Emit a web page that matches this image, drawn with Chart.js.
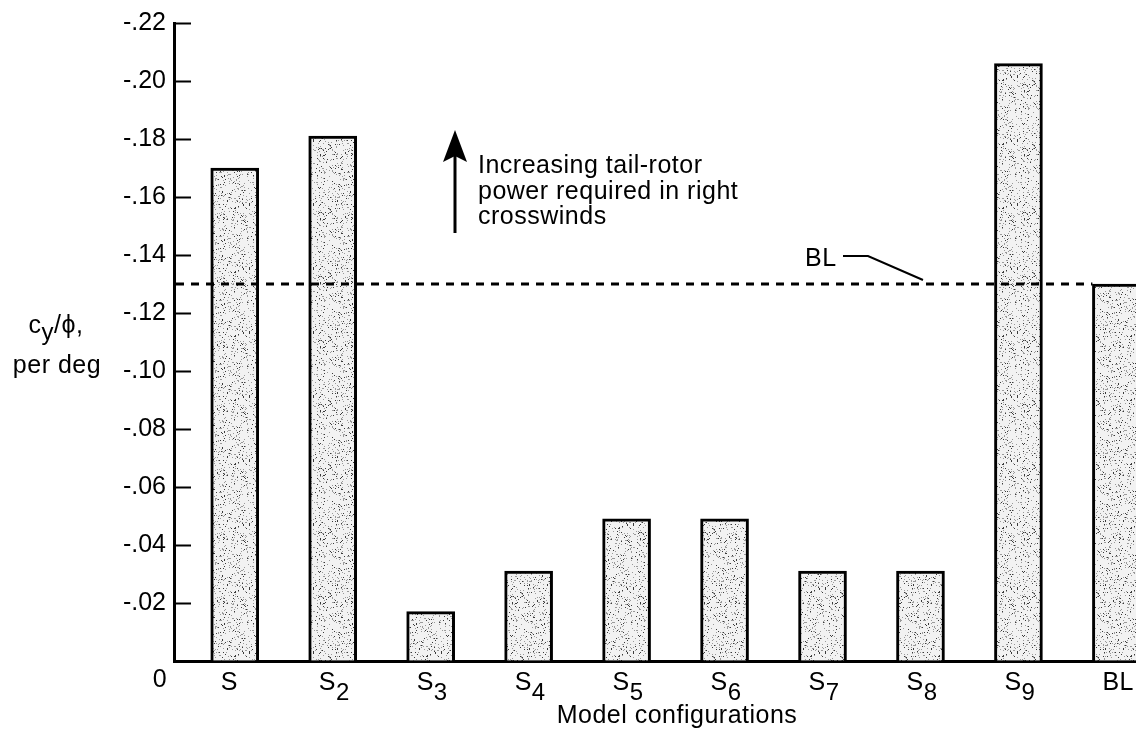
<!DOCTYPE html>
<html>
<head>
<meta charset="utf-8">
<title>Model configurations</title>
<script src="https://cdn.jsdelivr.net/npm/chart.js@4.4.0/dist/chart.umd.min.js"></script>
<style>
  html, body { margin: 0; padding: 0; background: #fff; overflow: hidden; }
  .chart-container { position: relative; width: 1136px; height: 735px; }
</style>
</head>
<body>
<div class="chart-container"><canvas id="chart"></canvas></div>
<script>
// data
const configNames = ['S', 'S', 'S', 'S', 'S', 'S', 'S', 'S', 'S', 'BL'];
const configSubs = ['', '2', '3', '4', '5', '6', '7', '8', '9', ''];
const cyPerDeg = [-0.170, -0.181, -0.017, -0.031, -0.049, -0.049, -0.031, -0.031, -0.206, -0.130];
const yTickValues = [0, -0.02, -0.04, -0.06, -0.08, -0.10, -0.12, -0.14, -0.16, -0.18, -0.20, -0.22];
const noteLines = ['Increasing tail-rotor', 'power required in right', 'crosswinds'];

const FONT = "'Liberation Sans', Arial, Helvetica, sans-serif";

// stippled fill like the printed bars (fixed hash, not data)
const stipple = (() => {
  const size = 64;
  const c = document.createElement('canvas');
  c.width = c.height = size;
  const g = c.getContext('2d');
  g.fillStyle = '#f2f2f2';
  g.fillRect(0, 0, size, size);
  const hash = n => {
    n = Math.imul(n ^ (n >>> 16), 0x45d9f3b);
    n = Math.imul(n ^ (n >>> 16), 0x45d9f3b);
    return ((n ^ (n >>> 16)) >>> 0) / 4294967296;
  };
  for (let py = 0; py < size; py++) {
    for (let px = 0; px < size; px++) {
      const h = hash(py * size + px + 101);
      if (h < 0.11) {
        g.fillStyle = h < 0.035 ? '#3a3a3a' : '#9a9a9a';
        g.fillRect(px, py, 1, 1);
      }
    }
  }
  return g.createPattern(c, 'repeat');
})();

const overlay = {
  id: 'overlay',
  afterDraw(chart) {
    const { ctx, chartArea, scales: { x, y } } = chart;
    ctx.save();
    ctx.fillStyle = '#000';
    ctx.strokeStyle = '#000';

    // tick marks point into the plot
    ctx.lineWidth = 2;
    yTickValues.forEach(v => {
      if (v === 0) return;
      const py = Math.round(y.getPixelForValue(v)) + 0.5;
      ctx.beginPath();
      ctx.moveTo(chartArea.left, py);
      ctx.lineTo(chartArea.left + 17, py);
      ctx.stroke();
    });

    ctx.letterSpacing = '0.5px';
    ctx.textBaseline = 'alphabetic';

    // zero label sits below the corner
    ctx.font = '25px ' + FONT;
    ctx.textAlign = 'center';
    ctx.fillText('0', 160, 687);

    // category labels with subscripts
    configNames.forEach((name, i) => {
      const cx = x.getPixelForValue(i);
      const left = cx - 14;
      ctx.textAlign = 'left';
      ctx.font = '25px ' + FONT;
      ctx.fillText(name, left, 690);
      if (configSubs[i]) {
        const w = ctx.measureText(name).width;
        ctx.font = '24px ' + FONT;
        ctx.fillText(configSubs[i], left + w, 700);
      }
    });

    // x title
    ctx.font = '25px ' + FONT;
    ctx.textAlign = 'center';
    ctx.fillText('Model configurations', 677, 723);

    // y title: c_y/phi, per deg
    ctx.font = '25px ' + FONT;
    const wc = ctx.measureText('c').width;
    const wRest = ctx.measureText('/\u03d5,').width;
    ctx.font = '24px ' + FONT;
    const wy = ctx.measureText('y').width;
    const tx = 56 - (wc + wy + wRest) / 2;
    ctx.textAlign = 'left';
    ctx.font = '25px ' + FONT;
    ctx.fillText('c', tx, 333);
    ctx.font = '24px ' + FONT;
    ctx.fillText('y', tx + wc, 340);
    ctx.font = '25px ' + FONT;
    ctx.fillText('/\u03d5,', tx + wc + wy, 333);
    ctx.textAlign = 'center';
    ctx.fillText('per deg', 57, 373);

    // baseline (BL) reference line, drawn to the BL bar
    const last = cyPerDeg.length - 1;
    const blY = y.getPixelForValue(cyPerDeg[last]);
    const blLeft = x.getPixelForValue(last) - 24;
    ctx.setLineDash([8, 7]);
    ctx.lineWidth = 3;
    ctx.beginPath();
    ctx.moveTo(chartArea.left + 2, blY);
    ctx.lineTo(blLeft, blY);
    ctx.stroke();
    ctx.setLineDash([]);

    // BL callout
    ctx.font = '25px ' + FONT;
    ctx.textAlign = 'left';
    ctx.fillText('BL', 805, blY - 18);
    ctx.lineWidth = 2;
    ctx.beginPath();
    ctx.moveTo(843, blY - 28);
    ctx.lineTo(868, blY - 28);
    ctx.lineTo(923, blY - 4);
    ctx.stroke();

    // arrow + note
    ctx.lineWidth = 3;
    ctx.beginPath();
    ctx.moveTo(455, 233);
    ctx.lineTo(455, 150);
    ctx.stroke();
    ctx.beginPath();
    ctx.moveTo(455, 130);
    ctx.lineTo(467, 162);
    ctx.lineTo(455, 156);
    ctx.lineTo(443, 162);
    ctx.closePath();
    ctx.fill();

    ctx.font = '25px ' + FONT;
    ctx.textAlign = 'left';
    noteLines.forEach((line, i) => ctx.fillText(line, 478, 173 + i * 25.7));

    ctx.restore();
  }
};

new Chart(document.getElementById('chart'), {
  type: 'bar',
  data: {
    datasets: [{
      label: 'cy/phi, per deg',
      data: cyPerDeg.map((v, i) => ({ x: i, y: v })),
      backgroundColor: stipple,
      borderColor: '#000',
      borderWidth: 3,
      barThickness: 48,
    }],
  },
  options: {
    responsive: true,
    maintainAspectRatio: false,
    animation: false,
    events: [],
    layout: { padding: { top: 23, right: 0, bottom: 0, left: 0 } },
    plugins: {
      legend: { display: false },
      tooltip: { enabled: false },
    },
    scales: {
      x: {
        type: 'linear',
        offset: false,
        min: -0.62,
        max: 9.2,
        afterBuildTicks: axis => { axis.ticks = configNames.map((_, i) => ({ value: i })); },
        afterFit: axis => { axis.height = 74; },
        ticks: { display: false },
        grid: { display: true, offset: false, drawOnChartArea: false, drawTicks: false },
        border: { display: true, color: '#000', width: 3 },
      },
      y: {
        type: 'linear',
        reverse: true,
        min: -0.22,
        max: 0,
        afterBuildTicks: axis => { axis.ticks = yTickValues.map(v => ({ value: v })); },
        afterFit: axis => { axis.width = 174; },
        ticks: {
          padding: 8,
          color: '#000',
          font: { family: FONT, size: 25 },
          callback: v => (v === 0 ? '' : '-' + Math.abs(v).toFixed(2).slice(1)),
        },
        grid: { display: true, drawOnChartArea: false, drawTicks: false },
        border: { display: true, color: '#000', width: 3 },
      },
    },
  },
  plugins: [overlay],
});
</script>
</body>
</html>
